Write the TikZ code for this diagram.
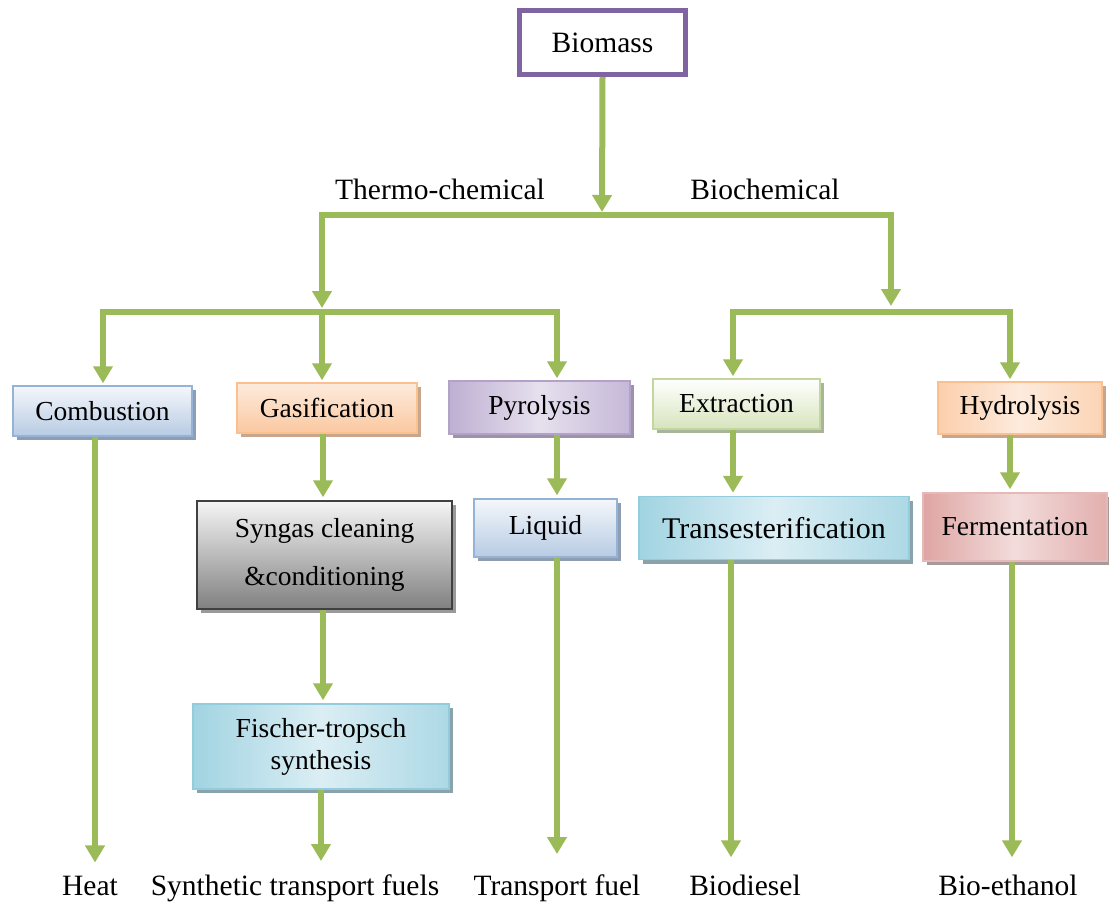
\documentclass[tikz,border=0pt]{standalone}
\usepackage{fontspec}
\setmainfont{Liberation Serif}
\usetikzlibrary{arrows.meta,shadows}
\definecolor{grn}{HTML}{9BBB59}
\definecolor{purp}{HTML}{8064A2}
\definecolor{bluA}{HTML}{F4F7FB}\definecolor{bluB}{HTML}{B7CBE3}\definecolor{bluE}{HTML}{95B3D7}\definecolor{bluS}{HTML}{8E9DB0}
\definecolor{orA}{HTML}{FDEBDD}\definecolor{orB}{HTML}{FBC8A0}\definecolor{orE}{HTML}{FAC090}\definecolor{orS}{HTML}{C8A68C}
\definecolor{puA}{HTML}{E6E0EE}\definecolor{puB}{HTML}{B4A3CB}\definecolor{puE}{HTML}{B3A2C7}\definecolor{puS}{HTML}{9C93A8}
\definecolor{gnA}{HTML}{FFFFFF}\definecolor{gnB}{HTML}{D7E4BD}\definecolor{gnE}{HTML}{C3D69B}\definecolor{gnS}{HTML}{A9B59A}
\definecolor{cyA}{HTML}{DBEEF4}\definecolor{cyB}{HTML}{93CDDD}\definecolor{cyE}{HTML}{93CDDD}\definecolor{cyS}{HTML}{8AA3AA}
\definecolor{rdA}{HTML}{F2DCDB}\definecolor{rdB}{HTML}{D99795}\definecolor{rdE}{HTML}{E6B9B8}\definecolor{rdS}{HTML}{A89A9A}
\definecolor{gyA}{HTML}{F5F5F5}\definecolor{gyB}{HTML}{808080}\definecolor{gyE}{HTML}{404040}\definecolor{gyS}{HTML}{9A9A9A}
\tikzset{
  bx/.style={rectangle, line width=1.5pt, inner sep=0pt, align=center,
    font=\fontsize{27.5}{33}\selectfont},
  shd/.style={general shadow={fill=#1, shadow xshift=4pt, shadow yshift=-4pt}},
  vgrad/.style n args={3}{top color=#1, bottom color=#2, draw=#3},
  hgrad/.style n args={3}{left color=#2!80!#1, right color=#2!65!#1, middle color=#1, draw=#3},
  flow/.style={draw=grn, line width=6pt, -{Triangle[width=19pt,length=17pt]}},
  lbl/.style={font=\fontsize{29.5}{35}\selectfont, inner sep=0pt, anchor=base},
}
\begin{document}
\begin{tikzpicture}[x=1pt,y=-1pt]
\useasboundingbox (0,0) rectangle (1109,903);
\fill[white] (0,0) rectangle (1109,903);

% top node
\node[draw=purp, line width=5pt, minimum width=166pt, minimum height=64pt, inner sep=0pt,
      font=\fontsize{29.5}{35}\selectfont] (bio) at (602.5,42.5) {Biomass};

% labels
\node[lbl] (thermo) at (440,199) {Thermo-chemical};
\node[lbl] (bioch) at (765,199) {Biochemical};

% first row boxes
\node[bx, vgrad={bluA}{bluB}{bluE}, shd=bluS, minimum width=179pt, minimum height=50pt] (comb) at (102.5,411) {Combustion};
\node[bx, vgrad={orA}{orB}{orE}, shd=orS, minimum width=180pt, minimum height=50pt] (gas) at (327,408) {Gasification};
\node[bx, hgrad={puA}{puB}{puE}, shd=puS, minimum width=181pt, minimum height=53pt] (pyr) at (539.5,407.5) {Pyrolysis};
\node[bx, vgrad={gnA}{gnB}{gnE}, shd=gnS, minimum width=167pt, minimum height=50pt] (ext) at (736.5,404) {Extraction};
\node[bx, hgrad={orA}{orB}{orE}, shd=orS, minimum width=164pt, minimum height=52pt] (hyd) at (1020,408) {Hydrolysis};

% second row
\node[bx, vgrad={gyA}{gyB}{gyE}, shd=gyS, minimum width=255pt, minimum height=108pt,
      font=\fontsize{27.5}{48}\selectfont] (syn) at (324.5,555) {Syngas cleaning\\\&conditioning};
\node[bx, vgrad={bluA}{bluB}{bluE}, shd=bluS, minimum width=143pt, minimum height=58pt] (liq) at (545.5,528) {Liquid};
\node[bx, hgrad={cyA}{cyB}{cyE}, shd=cyS, minimum width=270pt, minimum height=63pt,
      font=\fontsize{30}{36}\selectfont] (tra) at (774,528) {Transesterification};
\node[bx, hgrad={rdA}{rdB}{rdE}, shd=rdS, minimum width=184pt, minimum height=68pt] (fer) at (1015,527) {Fermentation};

% third row
\node[bx, hgrad={cyA}{cyB}{cyE}, shd=cyS, minimum width=256pt, minimum height=85pt,
      font=\fontsize{27.5}{32}\selectfont] (fis) at (321,746.5) {Fischer-tropsch\\synthesis};

% bottom labels
\node[lbl] (heat) at (90,895) {Heat};
\node[lbl] (stf) at (295,895) {Synthetic transport fuels};
\node[lbl] (tf) at (557,895) {Transport fuel};
\node[lbl] (bd) at (745,895) {Biodiesel};
\node[lbl] (be) at (1008,895) {Bio-ethanol};

% junction coordinates
\coordinate (tb) at (602,215);
\coordinate (tl) at (322,215);
\coordinate (tr) at (891,215);
\coordinate (ll) at (103,312);
\coordinate (lm) at (322,312);
\coordinate (lr) at (557,312);
\coordinate (rm) at (891,312);
\coordinate (rl) at (733,312);
\coordinate (rr) at (1010,312);

% main split
\draw[flow, shorten >=3pt] (bio.south) -- (tb);
\draw[flow, shorten >=4pt] (tr) -- (tl) -- (lm);
\draw[flow, shorten >=6pt] (tl) -- (tr) -- (rm);

% thermo-chemical split
\draw[flow, shorten >=2pt] (lr) -- (ll) -- (ll |- comb.north);
\draw[flow, shorten >=2pt] (ll) -- (lr) -- (lr |- pyr.north);
\draw[flow, shorten >=2pt] (lm) -- (lm |- gas.north);

% biochemical split
\draw[flow, shorten >=2pt] (rr) -- (rl) -- (rl |- ext.north);
\draw[flow, shorten >=2pt] (rl) -- (rr) -- (rr |- hyd.north);

% chains
\draw[flow, shorten >=13pt] ([xshift=-7.5pt]comb.south) -- ([xshift=-7.5pt]comb.south |- heat.north);
\draw[flow, shorten >=3pt] ([xshift=-4pt]gas.south) -- ([xshift=-4pt]gas.south |- syn.north);
\draw[flow, shorten >=3pt] ([xshift=-1.5pt]syn.south) -- ([xshift=-1.5pt]syn.south |- fis.north);
\draw[flow, shorten >=13pt] (fis.south) -- (fis.south |- stf.north);
\draw[flow, shorten >=3pt] ([xshift=17.5pt]pyr.south) -- ([xshift=17.5pt]pyr.south |- liq.north);
\draw[flow, shorten >=20pt] ([xshift=11.5pt]liq.south) -- ([xshift=11.5pt]liq.south |- tf.north);
\draw[flow, shorten >=3pt] ([xshift=-3.5pt]ext.south) -- ([xshift=-3.5pt]ext.south |- tra.north);
\draw[flow, shorten >=17pt] ([xshift=-43pt]tra.south) -- ([xshift=-43pt]tra.south |- bd.north);
\draw[flow, shorten >=3pt] ([xshift=-10pt]hyd.south) -- ([xshift=-10pt]hyd.south |- fer.north);
\draw[flow, shorten >=17pt] ([xshift=-3pt]fer.south) -- ([xshift=-3pt]fer.south |- be.north);
\end{tikzpicture}
\end{document}
